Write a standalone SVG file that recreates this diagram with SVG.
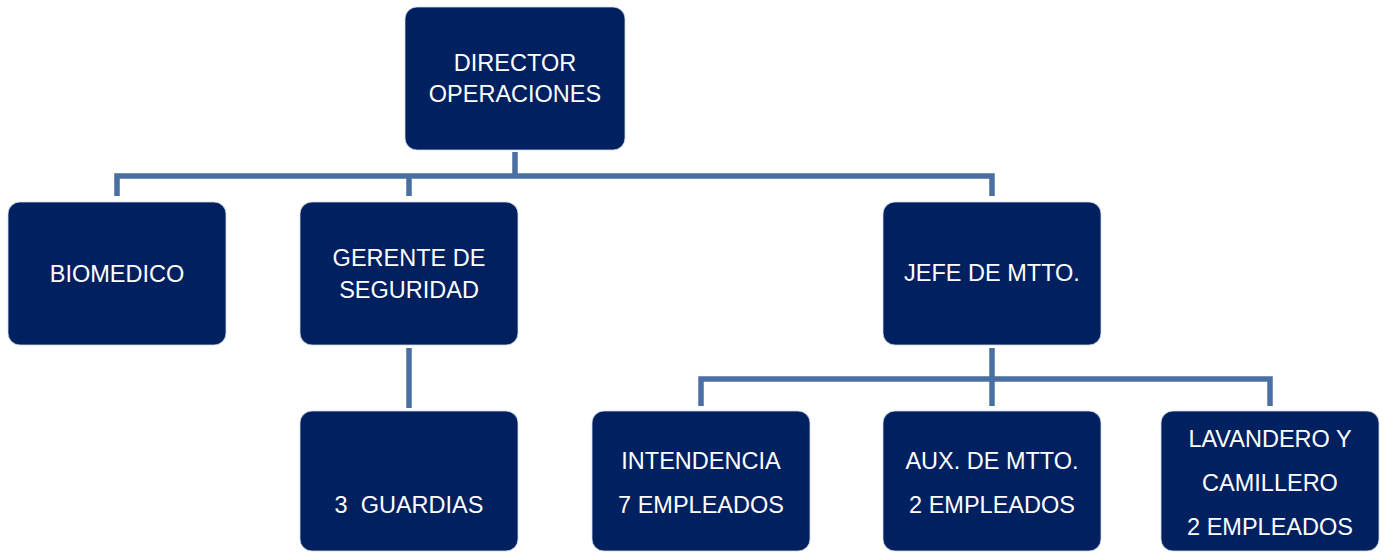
<svg xmlns="http://www.w3.org/2000/svg" width="1384" height="552" viewBox="0 0 1384 552">
<style>
.box{fill:#002060;stroke:#d0d8e8;stroke-width:0.8}
.t{fill:#ffffff;font-family:"Liberation Sans",Arial,sans-serif;font-size:23.5px;text-anchor:middle;white-space:pre}
.c{fill:none;stroke:#4a6fa3;stroke-width:5.5;stroke-linejoin:miter}
</style>
<rect width="1384" height="552" fill="#ffffff"/>
<g id="connectors">
<path class="c" d="M515 152 V176"/>
<path class="c" d="M117 196 V176 H992 V196"/>
<path class="c" d="M409 176 V196"/>
<path class="c" d="M409 348 V408"/>
<path class="c" d="M992 348 V379"/>
<path class="c" d="M701 406 V379 H1270 V406"/>
<path class="c" d="M992 379 V406"/>
</g>
<g id="director">
<rect class="box" x="405" y="7" width="220" height="143" rx="12"/>
<text class="t" x="515" y="71">DIRECTOR</text>
<text class="t" x="515" y="102">OPERACIONES</text>
</g>
<g id="biomedico">
<rect class="box" x="8" y="202" width="218" height="143" rx="12"/>
<text class="t" x="117" y="282">BIOMEDICO</text>
</g>
<g id="gerente">
<rect class="box" x="300" y="202" width="218" height="143" rx="12"/>
<text class="t" x="409" y="266">GERENTE DE</text>
<text class="t" x="409" y="298">SEGURIDAD</text>
</g>
<g id="jefe">
<rect class="box" x="883" y="202" width="218" height="143" rx="12"/>
<text class="t" x="992" y="281">JEFE DE MTTO.</text>
</g>
<g id="guardias">
<rect class="box" x="300" y="411" width="218" height="140" rx="12"/>
<text class="t" x="409" y="513" xml:space="preserve">3  GUARDIAS</text>
</g>
<g id="intendencia">
<rect class="box" x="592" y="411" width="218" height="140" rx="12"/>
<text class="t" x="701" y="469">INTENDENCIA</text>
<text class="t" x="701" y="513">7 EMPLEADOS</text>
</g>
<g id="aux">
<rect class="box" x="883" y="411" width="218" height="140" rx="12"/>
<text class="t" x="992" y="469">AUX. DE MTTO.</text>
<text class="t" x="992" y="513">2 EMPLEADOS</text>
</g>
<g id="lavandero">
<rect class="box" x="1161" y="411" width="218" height="140" rx="12"/>
<text class="t" x="1270" y="447">LAVANDERO Y</text>
<text class="t" x="1270" y="491">CAMILLERO</text>
<text class="t" x="1270" y="535">2 EMPLEADOS</text>
</g>
</svg>
